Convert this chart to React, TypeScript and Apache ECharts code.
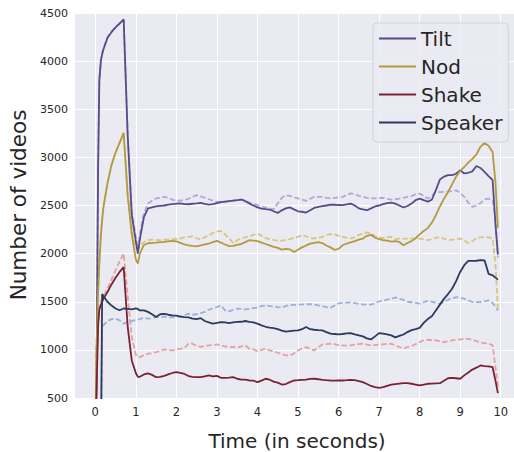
import React, { useEffect, useRef } from "react";
import * as echarts from "echarts";

const time = [
  0, 0.03, 0.07, 0.1, 0.14, 0.17, 0.2, 0.3, 0.4, 0.5, 0.6, 0.7, 0.8, 0.9, 1.0, 1.05,
  1.1, 1.2, 1.3, 1.4, 1.5, 1.6, 1.7, 1.8, 1.9,
  2.0, 2.1, 2.2, 2.3, 2.4, 2.5, 2.6, 2.7, 2.8, 2.9,
  3.0, 3.1, 3.2, 3.3, 3.4, 3.5, 3.6, 3.7, 3.8, 3.9,
  4.0, 4.1, 4.2, 4.3, 4.4, 4.5, 4.6, 4.7, 4.8, 4.9,
  5.0, 5.1, 5.2, 5.3, 5.4, 5.5, 5.6, 5.7, 5.8, 5.9,
  6.0, 6.1, 6.2, 6.3, 6.4, 6.5, 6.6, 6.7, 6.8, 6.9,
  7.0, 7.1, 7.2, 7.3, 7.4, 7.5, 7.6, 7.7, 7.8, 7.9,
  8.0, 8.1, 8.2, 8.3, 8.4, 8.5, 8.6, 8.7, 8.8, 8.9,
  9.0, 9.1, 9.2, 9.3, 9.4, 9.5, 9.6, 9.7, 9.8,
  9.87, 9.93,
];

const tiltSolid = [
  0, 600, 2900, 3800, 4010, 4070, 4120, 4240, 4300, 4350, 4390, 4435, 3220, 2400, 2130, 2000,
  2150, 2380, 2470, 2480, 2490, 2495, 2500, 2510, 2515,
  2520, 2523, 2515, 2513, 2518, 2522, 2527, 2518, 2510, 2515,
  2525, 2534, 2540, 2545, 2550, 2555, 2562, 2545, 2520, 2500,
  2480, 2468, 2462, 2458, 2440, 2423, 2450, 2470, 2480, 2460,
  2440, 2435, 2427, 2450, 2475, 2485, 2493, 2500, 2508, 2510,
  2505, 2503, 2512, 2520, 2500, 2470, 2460, 2451, 2470, 2490,
  2500, 2515, 2525, 2530, 2520, 2500, 2479, 2495, 2520, 2555,
  2572, 2555, 2540, 2560, 2660, 2770, 2800, 2815, 2815, 2830,
  2867, 2833, 2840, 2855, 2910, 2890, 2850, 2805, 2765,
  2300, 1990,
];

const tiltDashed = [
  0, 620, 2950, 3820, 4020, 4080, 4130, 4250, 4310, 4355, 4395, 4430, 3250, 2450, 2170, 2040,
  2200, 2420, 2520, 2550, 2573, 2580, 2590, 2580, 2560,
  2548, 2552, 2555, 2570, 2590, 2607, 2595, 2580, 2565, 2550,
  2538, 2540, 2538, 2545, 2550, 2555, 2562, 2555, 2530, 2520,
  2505, 2490, 2480, 2468, 2460, 2520, 2580, 2607, 2600, 2585,
  2573, 2560, 2548, 2570, 2590, 2590, 2590, 2580, 2573, 2580,
  2585, 2590, 2610, 2625, 2620, 2600, 2590, 2580, 2573, 2575,
  2578, 2580, 2570, 2560, 2565, 2572, 2580, 2590, 2600, 2615,
  2624, 2600, 2572, 2600, 2641, 2640, 2641, 2645, 2650, 2658,
  2630, 2590, 2530, 2486, 2500, 2525, 2565, 2570, 2555,
  2380, 1960,
];

const nodSolid = [
  0, 1000, 1600, 1900, 2200, 2350, 2480, 2730, 2920, 3050, 3150, 3255, 2600, 2200, 1940, 1896,
  2000, 2090, 2108, 2112, 2115, 2120, 2121, 2128, 2132,
  2128, 2111, 2095, 2085, 2080, 2076, 2085, 2095, 2105, 2120,
  2132, 2115, 2095, 2078, 2080, 2090, 2100, 2120, 2139, 2135,
  2130, 2115, 2100, 2085, 2070, 2060, 2042, 2050, 2045, 2017,
  2040, 2065, 2085, 2104, 2112, 2120, 2110, 2085, 2065, 2040,
  2050, 2087, 2105, 2118, 2130, 2145, 2156, 2185, 2195, 2165,
  2150, 2139, 2135, 2125, 2130, 2121, 2087, 2110, 2130, 2160,
  2200, 2235, 2265, 2320, 2399, 2490, 2570, 2640, 2720, 2800,
  2860, 2900, 2945, 2985, 3030, 3110, 3150, 3120, 3055,
  2740, 2270,
];

const nodDashed = [
  0, 1000, 1600, 1900, 2200, 2350, 2480, 2730, 2920, 3050, 3150, 3255, 2620, 2250, 2060, 2050,
  2080, 2120, 2140, 2146, 2142, 2139, 2145, 2146, 2150,
  2153, 2156, 2170, 2175, 2180, 2160, 2146, 2170, 2190, 2215,
  2230, 2236, 2200, 2160, 2111, 2140, 2156, 2170, 2180, 2195,
  2208, 2185, 2160, 2150, 2142, 2135, 2135, 2140, 2150, 2165,
  2175, 2190, 2180, 2160, 2158, 2165, 2173, 2190, 2205, 2200,
  2185, 2173, 2165, 2158, 2170, 2195, 2208, 2220, 2215, 2180,
  2165, 2160, 2170, 2175, 2150, 2156, 2156, 2156, 2156, 2158,
  2156, 2148, 2140, 2150, 2165, 2173, 2155, 2140, 2145, 2152,
  2156, 2135, 2110, 2130, 2160, 2168, 2172, 2170, 2156,
  1896, 1410,
];

const shakeSolid = [
  0, 550, 1250, 1420, 1470, 1500, 1530, 1600, 1680, 1750, 1810, 1860, 1240, 890, 760, 720,
  720, 745, 755, 740, 716, 720, 730, 745, 760,
  768, 760, 750, 728, 720, 716, 716, 725, 734, 725,
  730, 710, 710, 712, 716, 700, 690, 690, 682, 680,
  665, 680, 700, 690, 670, 660, 640, 645, 665, 682,
  685, 689, 690, 698, 700, 695, 689, 685, 682, 680,
  682, 682, 685, 689, 685, 675, 665, 645, 625, 612,
  606, 612, 625, 638, 645, 650, 654, 654, 648, 640,
  630, 638, 648, 650, 652, 654, 680, 705, 710, 705,
  700, 735, 765, 795, 815, 838, 832, 828, 820,
  680, 550,
];

const shakeDashed = [
  0, 600, 1300, 1460, 1510, 1530, 1549, 1640, 1730, 1830, 1920, 2000, 1560, 1130, 950, 925,
  925, 945, 960, 965, 977, 990, 1005, 1000, 994,
  1005, 1012, 1020, 1065, 1064, 1040, 1030, 1040, 1047, 1050,
  1057, 1047, 1035, 1029, 1030, 1025, 1035, 1047, 1012, 1005,
  987, 1000, 1012, 995, 985, 970, 955, 942, 942, 965,
  994, 1015, 1029, 1010, 994, 1030, 1057, 1060, 1064, 1060,
  1050, 1047, 1045, 1047, 1055, 1060, 1064, 1055, 1047, 1050,
  1055, 1057, 1062, 1064, 1047, 1030, 1012, 1030, 1040, 1060,
  1081, 1100, 1105, 1100, 1098, 1090, 1081, 1090, 1098, 1105,
  1110, 1115, 1115, 1105, 1090, 1078, 1070, 1064, 1050,
  820, 620,
];

const speakerSolid = [
  null, null, null, null, 0, 1580, 1560, 1500, 1460, 1430, 1412, 1430, 1425, 1420, 1430, 1425,
  1410, 1410, 1395, 1370, 1341, 1370, 1375, 1365, 1358,
  1355, 1345, 1341, 1338, 1325, 1320, 1330, 1300, 1285, 1272,
  1280, 1289, 1285, 1279, 1285, 1290, 1292, 1300, 1290, 1285,
  1272, 1255, 1240, 1232, 1225, 1215, 1200, 1190, 1195, 1200,
  1202, 1215, 1237, 1215, 1209, 1205, 1202, 1185, 1168, 1165,
  1161, 1165, 1172, 1174, 1160, 1150, 1140, 1120, 1108, 1140,
  1174, 1168, 1161, 1150, 1130, 1145, 1160, 1185, 1205, 1215,
  1228, 1280, 1320, 1350, 1410, 1470, 1530, 1580, 1635, 1715,
  1810, 1880, 1924, 1924, 1926, 1932, 1930, 1790, 1775,
  1751, 1730,
];

const speakerDashed = [
  null, null, null, null, 0, 1230, 1254, 1300, 1320, 1324, 1306, 1272, 1290, 1300, 1310, 1315,
  1320, 1335, 1324, 1330, 1340, 1340, 1345, 1335, 1340,
  1341, 1348, 1360, 1376, 1365, 1370, 1383, 1395, 1417, 1430,
  1445, 1462, 1410, 1400, 1415, 1428, 1425, 1420, 1425, 1435,
  1438, 1455, 1462, 1455, 1452, 1445, 1440, 1455, 1469, 1468,
  1469, 1472, 1474, 1476, 1470, 1462, 1455, 1445, 1438, 1460,
  1483, 1488, 1490, 1493, 1485, 1476, 1472, 1469, 1470, 1485,
  1503, 1512, 1522, 1530, 1545, 1532, 1520, 1500, 1495, 1488,
  1480, 1495, 1508, 1500, 1490, 1480, 1500, 1521, 1535, 1549,
  1540, 1532, 1515, 1497, 1497, 1497, 1505, 1514, 1485,
  1450, 1410,
];

const xTicks = [0, 1, 2, 3, 4, 5, 6, 7, 8, 9, 10];
const legendNames = ["Tilt", "Nod", "Shake", "Speaker"];

const FONT = "DejaVu Sans";

export default function App() {
  const ref = useRef<HTMLDivElement>(null);

  useEffect(() => {
    const chart = echarts.init(ref.current!, null, { renderer: "svg" });
    const pairs = (vals: (number | null)[]) => time.map((t, i) => [t, vals[i]]);

    const solid = (name: string, vals: (number | null)[], color: string) => ({
      name,
      type: "line",
      data: pairs(vals),
      symbol: "none",
      showSymbol: false,
      z: 3,
      lineStyle: { color, width: 1.8 },
      itemStyle: { color },
      clip: true,
    });
    const dashed = (name: string, vals: (number | null)[], color: string) => ({
      name,
      type: "line",
      data: pairs(vals),
      symbol: "none",
      showSymbol: false,
      z: 2,
      lineStyle: { color, width: 1.8, type: [5.5, 2.5] },
      itemStyle: { color },
      clip: true,
    });

    chart.setOption({
      animation: false,
      backgroundColor: "#ffffff",
      grid: {
        left: 75,
        top: 13,
        width: 446,
        height: 385,
        show: true,
        backgroundColor: "#eaeaf2",
        borderWidth: 0,
        containLabel: false,
        outerBoundsMode: "none",
      },
      xAxis: {
        type: "value",
        min: -0.5,
        max: 10.5,
        axisLine: { show: false },
        axisTick: { show: false, customValues: xTicks },
        axisLabel: {
          customValues: xTicks,
          fontFamily: FONT,
          fontSize: 11.5,
          color: "#262626",
          margin: 8,
        },
        splitLine: { show: true, lineStyle: { color: "#ffffff", width: 1 } },
      },
      yAxis: {
        type: "value",
        min: 500,
        max: 4500,
        interval: 500,
        axisLine: { show: false },
        axisTick: { show: false },
        axisLabel: {
          fontFamily: FONT,
          fontSize: 11,
          color: "#262626",
          margin: 7,
          formatter: (v: number) => String(v),
        },
        splitLine: { show: true, lineStyle: { color: "#ffffff", width: 1 } },
      },
      legend: {
        data: legendNames,
        orient: "vertical",
        left: 373,
        top: 23,
        icon: "rect",
        itemWidth: 37,
        itemHeight: 2.2,
        itemGap: 7,
        itemTextGap: 14,
        padding: [5, 6, 9, 6],
        backgroundColor: "rgba(234,234,242,0.85)",
        borderColor: "#d2d2da",
        borderWidth: 1,
        borderRadius: 4,
        textStyle: {
          fontFamily: FONT,
          fontSize: 20,
          lineHeight: 21,
          color: "#262626",
        },
      },
      graphic: [
        {
          type: "text",
          x: 18,
          y: 205,
          rotation: Math.PI / 2,
          style: {
            text: "Number of videos",
            fontFamily: FONT,
            fontSize: 21.5,
            fill: "#262626",
            textAlign: "center",
            textVerticalAlign: "middle",
          },
        },
        {
          type: "text",
          x: 297,
          y: 441,
          style: {
            text: "Time (in seconds)",
            fontFamily: FONT,
            fontSize: 20,
            fill: "#262626",
            textAlign: "center",
            textVerticalAlign: "middle",
          },
        },
      ],
      series: [
        dashed("Tilt baseline", tiltDashed, "#b3a7d8"),
        dashed("Nod baseline", nodDashed, "#dac47f"),
        dashed("Shake baseline", shakeDashed, "#e6a0a0"),
        dashed("Speaker baseline", speakerDashed, "#9db0da"),
        solid("Tilt", tiltSolid, "#574b89"),
        solid("Nod", nodSolid, "#b49a3f"),
        solid("Shake", shakeSolid, "#7a2232"),
        solid("Speaker", speakerSolid, "#2b3b5b"),
      ],
    });

    return () => chart.dispose();
  }, []);

  return (
    <div
      ref={ref}
      style={{
        position: "fixed",
        left: 0,
        top: 0,
        width: 514,
        height: 452,
        background: "#ffffff",
      }}
    />
  );
}
